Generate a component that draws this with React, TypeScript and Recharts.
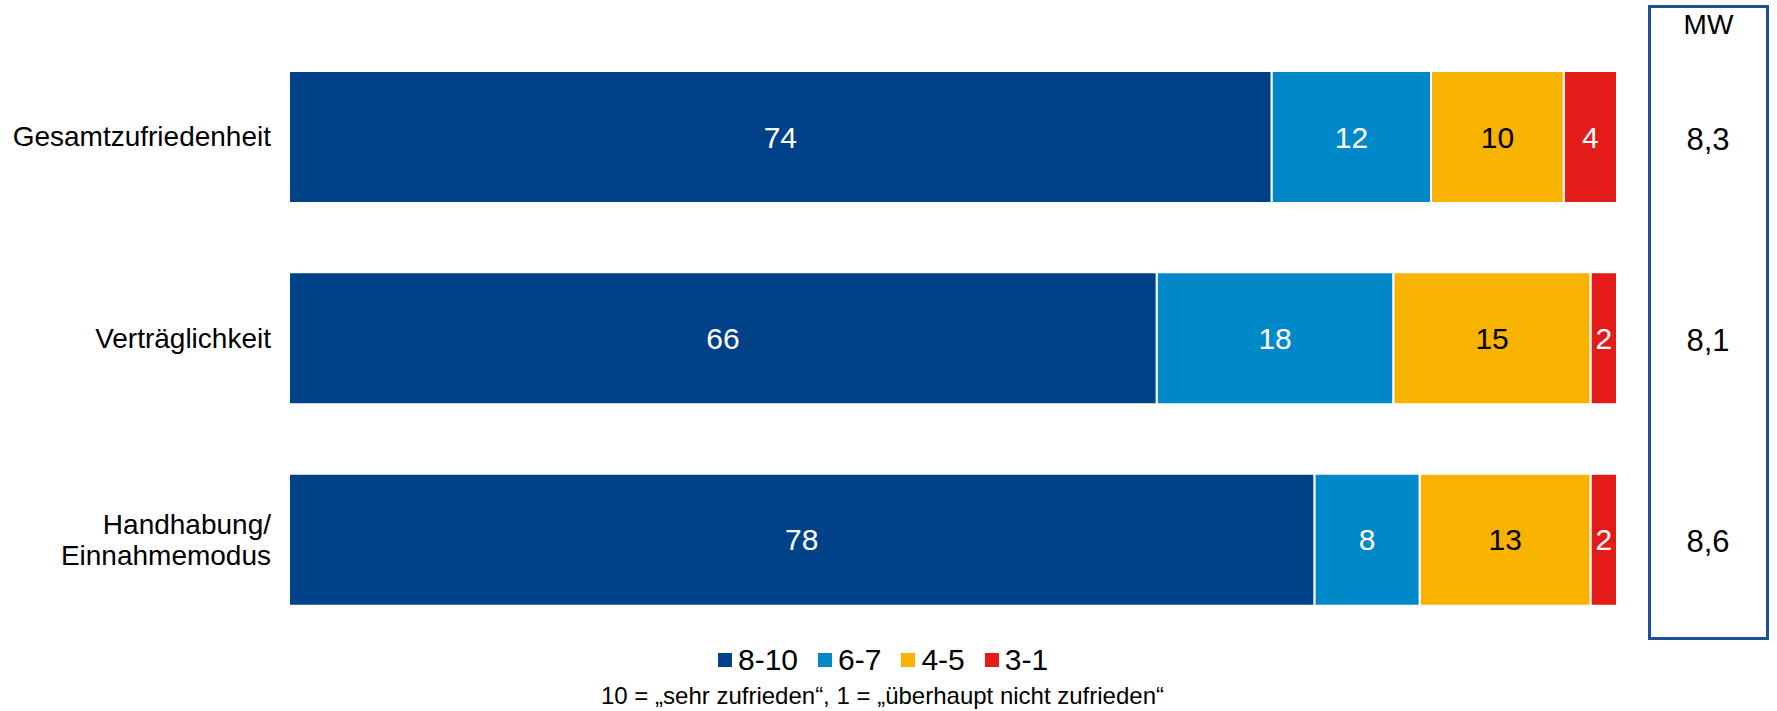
import React from "react";
import { BarChart, Bar, XAxis, YAxis, LabelList } from "recharts";

const categories = ["Gesamtzufriedenheit", "Verträglichkeit", "Handhabung/\nEinnahmemodus"];
const top = [74, 66, 78];
const good = [12, 18, 8];
const mid = [10, 15, 13];
const low = [4, 2, 2];
const means = ["8,3", "8,1", "8,6"];

const SERIES = [
  { key: "s810", name: "8-10", color: "#004288", text: "#ffffff" },
  { key: "s67", name: "6-7", color: "#0088c9", text: "#ffffff" },
  { key: "s45", name: "4-5", color: "#f8b200", text: "#000000" },
  { key: "s31", name: "3-1", color: "#e31c1a", text: "#ffffff" },
];

const data = categories.map((name, i) => ({
  name,
  mean: means[i],
  s810: top[i],
  s67: good[i],
  s45: mid[i],
  s31: low[i],
}));

const FONT = "'Liberation Sans', Arial, sans-serif";

const LeftTick = ({ x, y, payload }: any) => {
  const lines = String(payload.value).split("\n");
  const lh = 31;
  const start = -((lines.length - 1) * lh) / 2;
  return (
    <text x={x} y={y} textAnchor="end" fontSize={28} fill="#000" fontFamily={FONT}>
      {lines.map((l, i) => (
        <tspan key={i} x={x} y={y + start + i * lh} dy="0.35em">
          {l}
        </tspan>
      ))}
    </text>
  );
};

// MW column, centred in the framed box on the right
const RightTick = ({ y, payload }: any) => {
  const row = data.find((d) => d.name === payload.value);
  return (
    <text x={1708} y={y + 2} dy="0.35em" textAnchor="middle" fontSize={31} fill="#000" fontFamily={FONT}>
      {row ? row.mean : ""}
    </text>
  );
};

export default function App() {
  return (
    <div style={{ position: "absolute", left: 0, top: 0, width: 1777, height: 711, background: "#fff" }}>
      <BarChart
        width={1777}
        height={711}
        data={data}
        layout="vertical"
        stackOffset="expand"
        margin={{ top: 36, right: 0, bottom: 71, left: 0 }}
      >
        <XAxis type="number" hide domain={[0, 1]} />
        <YAxis
          yAxisId="l"
          type="category"
          dataKey="name"
          width={289}
          axisLine={false}
          tickLine={false}
          tickSize={0}
          tickMargin={18}
          tick={<LeftTick />}
        />
        <YAxis
          yAxisId="r"
          orientation="right"
          type="category"
          dataKey="name"
          width={160}
          axisLine={false}
          tickLine={false}
          tick={<RightTick />}
        />
        {SERIES.map((s) => (
          <Bar
            key={s.key}
            yAxisId="l"
            dataKey={s.key}
            name={s.name}
            stackId="a"
            fill={s.color}
            stroke="#ffffff"
            strokeWidth={2}
            barSize={132}
            isAnimationActive={false}
          >
            <LabelList dataKey={s.key} position="center" fill={s.text} fontSize={30} fontFamily={FONT} />
          </Bar>
        ))}
      </BarChart>
      <div
        style={{
          position: "absolute",
          left: 1648,
          top: 5,
          width: 121,
          height: 635,
          border: "3px solid #1f519b",
          boxSizing: "border-box",
        }}
      />
      <div
        style={{
          position: "absolute",
          left: 1648,
          top: 9,
          width: 121,
          textAlign: "center",
          fontSize: 28,
          lineHeight: "32px",
          fontFamily: FONT,
          color: "#000",
        }}
      >
        MW
      </div>
      <div
        style={{
          position: "absolute",
          left: 718,
          top: 642,
          display: "flex",
          alignItems: "center",
          height: 36,
          fontFamily: FONT,
          color: "#000",
        }}
      >
        {SERIES.map((s) => (
          <div key={s.key} style={{ display: "flex", alignItems: "center", marginRight: 20 }}>
            <span style={{ width: 14, height: 14, background: s.color, display: "inline-block", marginRight: 6 }} />
            <span style={{ fontSize: 30 }}>{s.name}</span>
          </div>
        ))}
      </div>
      <div
        style={{
          position: "absolute",
          left: 601,
          top: 682,
          fontSize: 24,
          lineHeight: "28px",
          whiteSpace: "nowrap",
          fontFamily: FONT,
          color: "#000",
        }}
      >
        10 = „sehr zufrieden“, 1 = „überhaupt nicht zufrieden“
      </div>
    </div>
  );
}
